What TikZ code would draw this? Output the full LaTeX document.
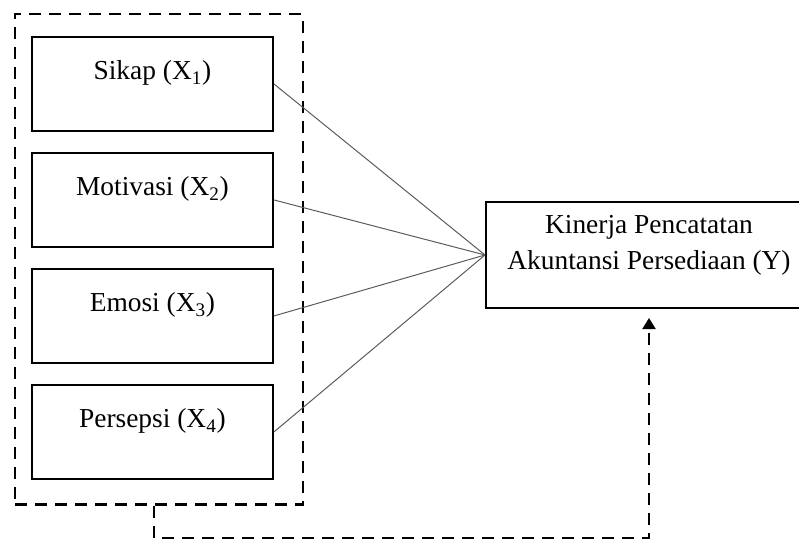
\documentclass[tikz,border=0pt]{standalone}
\usepackage{fontspec}
\setmainfont{Liberation Serif}
\usetikzlibrary{positioning,calc,fit,arrows.meta}
\tikzset{
	varbox/.style={draw,
			line width=1.4pt,
			minimum width=6.03cm,
			minimum height=2.35cm,
			text height=0.5cm,
			text depth=0.71cm
		},
	grpbox/.style={draw,
			line width=1.7pt,
			dash pattern=on 0.3cm off 0.2cm,
			inner sep=0pt
		},
	link/.style={draw=black!65, line width=0.7pt}
}

\begin{document}
\begin{tikzpicture}[font=\fontsize{19.5}{25}\selectfont]
		\useasboundingbox (0,0) rectangle (19.975,-13.55);

		% Variabel bebas
		\node[varbox] (sikap) at (3.81,-2.1) {Sikap (X\textsubscript{1})};

		\node[varbox,
			below=0.5cm of sikap
		] (motivasi) {Motivasi (X\textsubscript{2})};

		\node[varbox,
			below=0.5cm of motivasi
		] (emosi) {Emosi (X\textsubscript{3})};

		\node[varbox,
			below=0.5cm of emosi
		] (persepsi) {Persepsi (X\textsubscript{4})};

		% Kotak putus-putus
		\coordinate (grpnw) at ($(sikap.north west)+(-0.4,0.55)$);
		\coordinate (grpse) at ($(persepsi.south east)+(0.72,-0.62)$);
		\node[grpbox, fit=(grpnw)(grpse)] (group) {};

		% Variabel terikat
		\node[draw,
			line width=1.4pt,
			minimum width=8.15cm,
			minimum height=2.65cm
		] (kinerja) at (16.225,-6.375) {};
		\node[align=center] (kinerjatext) at ([yshift=0.24cm]kinerja.center)
		{Kinerja Pencatatan\\Akuntansi Persediaan (Y)};

		% Garis ke Y
		\foreach \src in {sikap,motivasi,emosi,persepsi}
		\draw[link] (\src.east) -- (kinerja.west);

		% Panah putus-putus
		\draw[line width=1.5pt,
			dash pattern=on 0.3cm off 0.2cm,
			shorten >=0.225cm,
			-{Triangle[width=0.33cm,length=0.28cm]}]
		([xshift=-0.125cm]group.south) -- ++(0,-0.8) -| (kinerja.south);
	\end{tikzpicture}
\end{document}
